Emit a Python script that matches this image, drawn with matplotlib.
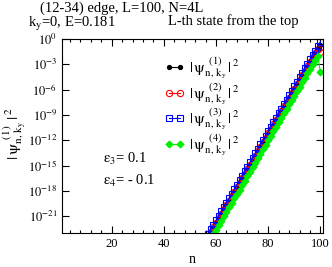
"""
Edge-state amplitudes |psi_n|^2 vs site index n, (12-34) edge.
"""

import matplotlib
matplotlib.use("Agg")
import matplotlib.pyplot as plt
from matplotlib.ticker import FixedLocator, MultipleLocator, NullLocator
import numpy as np

plt.rcParams['font.family'] = ['Liberation Serif', 'DejaVu Serif']
plt.rcParams['mathtext.fontset'] = 'stix'

# site index
n_sites = list(range(57, 101))

# log10 |psi|^2, one value per site (n = 57..100)
log_psi1 = [-23.44, -22.90, -22.39, -21.85, -21.33, -20.79, -20.27, -19.73, -19.21, -18.67,
            -18.15, -17.61, -17.09, -16.55, -16.03, -15.49, -14.97, -14.43, -13.91, -13.37,
            -12.85, -12.31, -11.79, -11.25, -10.73, -10.19, -9.67, -9.13, -8.61, -8.07,
            -7.55, -7.01, -6.49, -5.95, -5.43, -4.89, -4.37, -3.83, -3.31, -2.77,
            -2.25, -1.73, -1.22, -0.75]
log_psi2 = [-23.37, -22.83, -22.32, -21.78, -21.26, -20.72, -20.20, -19.66, -19.14, -18.60,
            -18.08, -17.54, -17.02, -16.48, -15.96, -15.42, -14.90, -14.36, -13.84, -13.30,
            -12.78, -12.24, -11.72, -11.18, -10.66, -10.12, -9.60, -9.06, -8.54, -8.00,
            -7.48, -6.94, -6.42, -5.88, -5.36, -4.82, -4.30, -3.76, -3.24, -2.70,
            -2.19, -1.68, -1.20, -1.55]
log_psi3 = [-23.09, -22.55, -22.04, -21.50, -20.98, -20.44, -19.92, -19.38, -18.86, -18.32,
            -17.80, -17.26, -16.74, -16.20, -15.68, -15.14, -14.62, -14.08, -13.56, -13.02,
            -12.50, -11.96, -11.44, -10.90, -10.38, -9.84, -9.32, -8.78, -8.26, -7.72,
            -7.20, -6.66, -6.14, -5.60, -5.08, -4.54, -4.02, -3.48, -2.96, -2.42,
            -1.90, -1.38, -0.86, -0.30]
log_psi4 = [-24.19, -23.65, -23.14, -22.60, -22.08, -21.54, -21.02, -20.48, -19.96, -19.42,
            -18.90, -18.36, -17.84, -17.30, -16.78, -16.24, -15.72, -15.18, -14.66, -14.12,
            -13.60, -13.06, -12.54, -12.00, -11.48, -10.94, -10.42, -9.88, -9.36, -8.82,
            -8.30, -7.76, -7.24, -6.70, -6.18, -5.64, -5.12, -4.58, -4.06, -3.52,
            -3.00, -2.45, -2.05, -3.95]

x_ticks = [20, 40, 60, 80, 100]
y_exponents = [0, -3, -6, -9, -12, -15, -18, -21]

SERIES = [
    (log_psi1, dict(color='black', marker='o', ms=3, mfc='black', mec='black'), '1'),
    (log_psi2, dict(color='red', marker='o', ms=4.5, mfc='none', mec='red'), '2'),
    (log_psi3, dict(color='blue', marker='s', ms=5, mfc='none', mec='blue'), '3'),
    (log_psi4, dict(color='#00ee00', marker='D', ms=3.5, mfc='#00ee00', mec='#00ee00'), '4'),
]


def psi_label(idx):
    return (r'$|\,\mathrm{\psi}_{\mathrm{n,\,k}_{\mathrm{y}}}^{\;\;(%s)}\,|^{\,2}$' % idx)


fig = plt.figure(figsize=(3.32, 2.67), dpi=100)
ax = fig.add_axes([0.187, 0.127, 0.786, 0.727])

for vals, style, idx in SERIES:
    ax.plot(n_sites, 10.0 ** np.array(vals), lw=0.8, mew=0.8,
            label=psi_label(idx), **style)

ax.set_yscale('log')
ax.set_xlim(1, 101)
ax.set_ylim(1e-23, 1e0)
ax.xaxis.set_major_locator(FixedLocator(x_ticks))
ax.xaxis.set_minor_locator(MultipleLocator(4))
ax.yaxis.set_major_locator(FixedLocator([10.0 ** e for e in y_exponents]))
ax.yaxis.set_minor_locator(NullLocator())
ax.set_yticklabels([r'$10^{%d}$' % e for e in y_exponents])
ax.tick_params(which='both', direction='in', top=True, right=True, labelsize=9)
ax.tick_params(which='major', length=5, width=0.8)
ax.tick_params(which='minor', length=2.5, width=0.8)

ax.set_xlabel('n', fontsize=10, labelpad=2)
fig.text(0.045, 0.5, psi_label(1), rotation=90, ha='center', va='center', fontsize=11.5)

ax.legend(loc='upper left', bbox_to_anchor=(0.34, 0.985), numpoints=2,
          handlelength=1.3, handletextpad=0.3, labelspacing=0.02,
          frameon=False, fontsize=11)

fig.text(0.12, 0.995, '(12-34) edge, L=100, N=4L', ha='left', va='top', fontsize=10.5)
fig.text(0.085, 0.945, r'k$_\mathrm{y}$=0, E=0.181', ha='left', va='top', fontsize=10.5)
fig.text(0.505, 0.945, 'L-th state from the top', ha='left', va='top', fontsize=10.5)
ax.text(0.157, 0.36, r'$\mathrm{\epsilon}_3$= 0.1', transform=ax.transAxes, fontsize=10.5)
ax.text(0.157, 0.25, r'$\mathrm{\epsilon}_4$= - 0.1', transform=ax.transAxes, fontsize=10.5)

fig.savefig('out.png', dpi=100, facecolor='white')
